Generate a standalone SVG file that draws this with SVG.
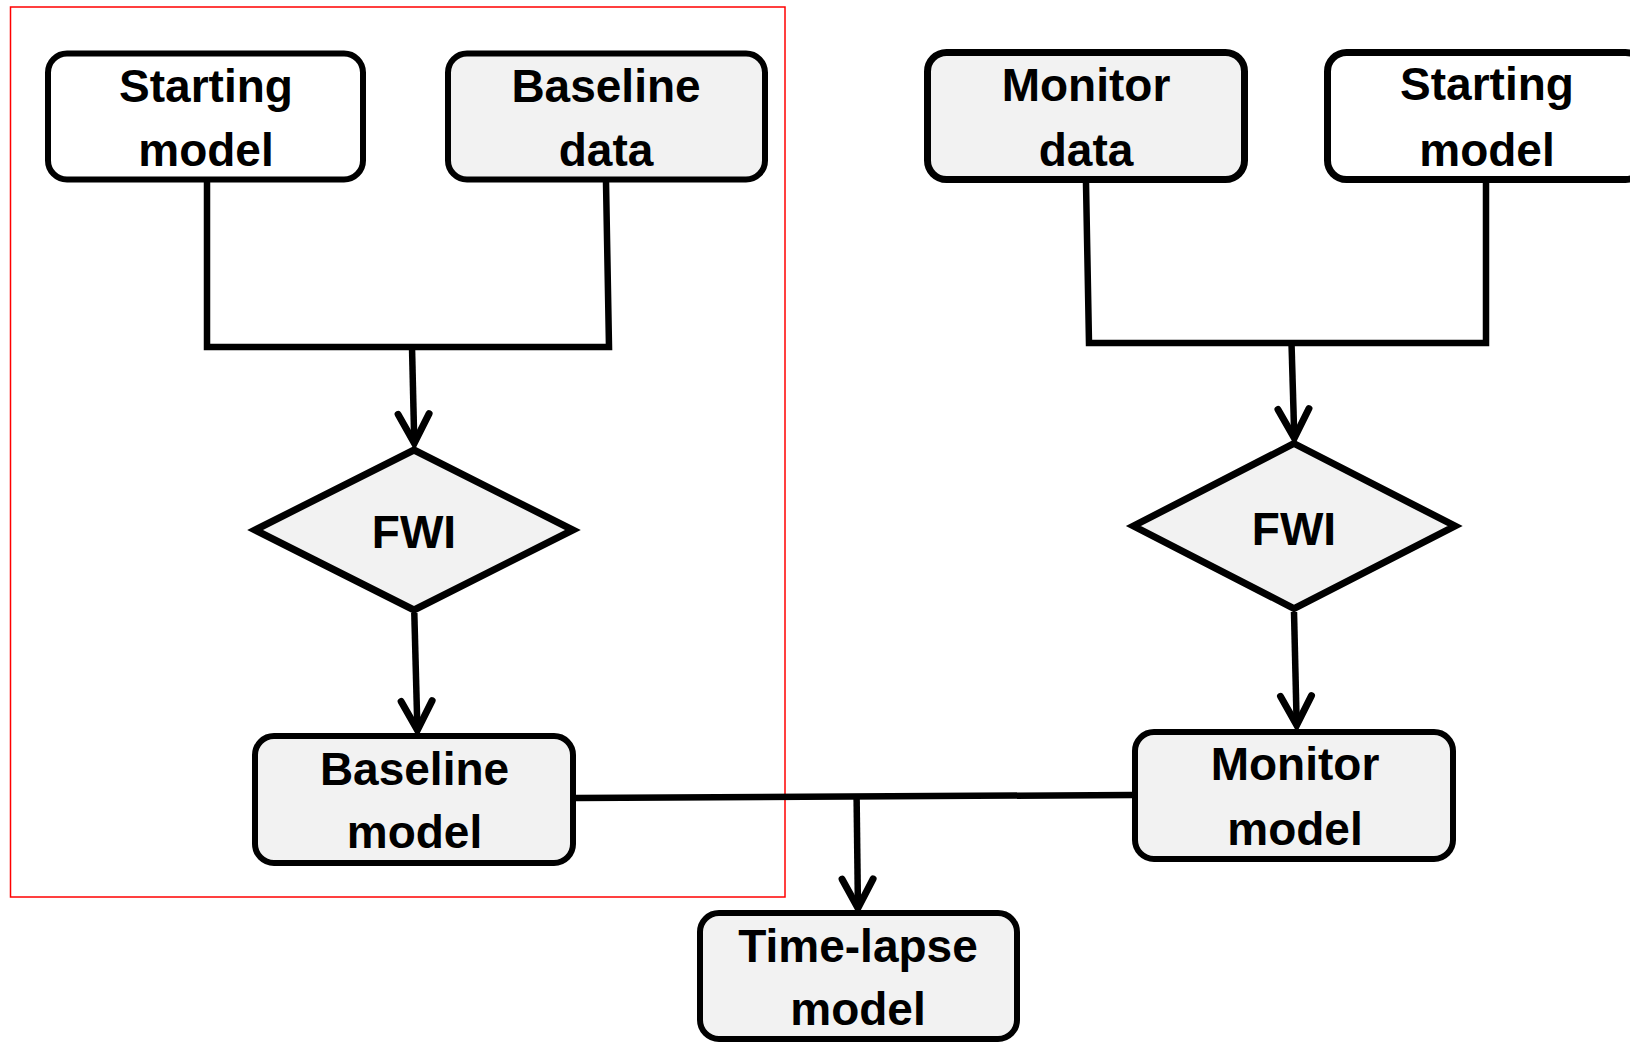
<svg xmlns="http://www.w3.org/2000/svg" width="1630" height="1044" viewBox="0 0 1630 1044">
<style>
.box{stroke:#000;stroke-width:6;}
.box7{stroke:#000;stroke-width:7;}
.grey{fill:#f2f2f2;}
.white{fill:#ffffff;}
.dia{fill:#f2f2f2;stroke:#000;stroke-width:7;stroke-linejoin:miter;}
.lbl{font-family:"Liberation Sans",Arial,sans-serif;font-weight:bold;font-size:46px;fill:#000;text-anchor:middle;}
.con{fill:none;stroke:#000;stroke-width:6.5;stroke-linejoin:miter;}
</style>
<defs>
<marker id="arr" markerUnits="userSpaceOnUse" viewBox="-34 -22 42 44" markerWidth="42" markerHeight="44" refX="0" refY="0" orient="auto" overflow="visible">
<path d="M-25,-15.5 L4,0 L-25,15.5" fill="none" stroke="#000" stroke-width="7" stroke-linecap="round" stroke-linejoin="miter"/>
</marker>
</defs>
<rect x="0" y="0" width="1630" height="1044" fill="#ffffff"/>
<rect id="frame" x="10.5" y="7" width="774.5" height="890" fill="none" stroke="#ff0000" stroke-width="1.5"/>

<g id="connectors">
<path class="con" d="M207,182 L207,347 L609,347 L606,182"/>
<path class="con" d="M412,347 L414.2,439" marker-end="url(#arr)"/>
<path class="con" d="M414.3,613 L417.3,726" marker-end="url(#arr)"/>
<path class="con" d="M1086,183 L1089,343 L1486,343 L1486,183"/>
<path class="con" d="M1291.5,343 L1294.2,434" marker-end="url(#arr)"/>
<path class="con" d="M1294,612 L1296.6,721" marker-end="url(#arr)"/>
<path class="con" d="M576,798 L1132,795"/>
<path class="con" d="M856.6,797 L857.9,904" marker-end="url(#arr)"/>
</g>

<g id="starting-model-left">
<rect class="box white" x="48" y="53.5" width="315" height="126" rx="19"/>
<text class="lbl" x="206" y="102">Starting</text>
<text class="lbl" x="206" y="166">model</text>
</g>
<g id="baseline-data">
<rect class="box grey" x="448" y="53.5" width="317" height="126" rx="19"/>
<text class="lbl" x="606" y="102">Baseline</text>
<text class="lbl" x="606" y="166">data</text>
</g>
<g id="monitor-data">
<rect class="box7 grey" x="927.5" y="52.5" width="317" height="127" rx="19"/>
<text class="lbl" x="1086" y="101">Monitor</text>
<text class="lbl" x="1086" y="166">data</text>
</g>
<g id="starting-model-right">
<rect class="box7 white" x="1327.5" y="52.5" width="317" height="127" rx="19"/>
<text class="lbl" x="1487" y="100">Starting</text>
<text class="lbl" x="1487" y="166">model</text>
</g>
<g id="fwi-baseline">
<polygon class="dia" points="414,450 573,530 414,610 255,530"/>
<text class="lbl" x="414" y="548">FWI</text>
</g>
<g id="fwi-monitor">
<polygon class="dia" points="1294,443.5 1455,526 1294,608.5 1133.5,526"/>
<text class="lbl" x="1294" y="545">FWI</text>
</g>
<g id="baseline-model">
<rect class="box grey" x="255" y="736" width="318" height="127" rx="19"/>
<text class="lbl" x="414.5" y="785">Baseline</text>
<text class="lbl" x="414.5" y="848">model</text>
</g>
<g id="monitor-model">
<rect class="box grey" x="1135" y="732" width="318" height="127" rx="19"/>
<text class="lbl" x="1295" y="780">Monitor</text>
<text class="lbl" x="1295" y="845">model</text>
</g>
<g id="time-lapse-model">
<rect class="box grey" x="700" y="913" width="317" height="126" rx="19"/>
<text class="lbl" x="858" y="962">Time-lapse</text>
<text class="lbl" x="858" y="1025">model</text>
</g>
</svg>
